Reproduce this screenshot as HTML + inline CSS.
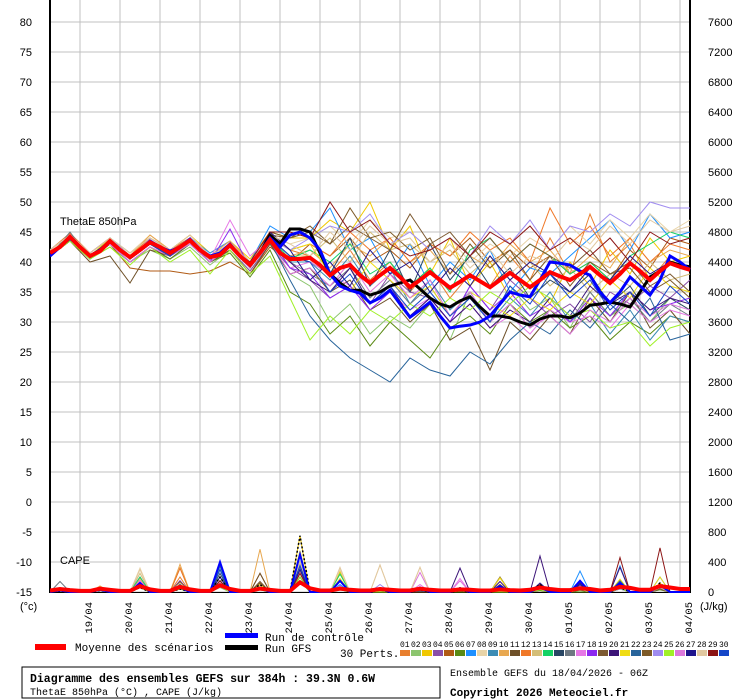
<!DOCTYPE html>
<html><head><meta charset="utf-8"><style>
body{margin:0;background:#fff;}
svg{display:block;font-family:"Liberation Sans",sans-serif;}
</style></head><body>
<svg id="chart" width="740" height="700" viewBox="0 0 740 700">
<rect x="0" y="0" width="740" height="700" fill="#fff"/>
<g id="grid"></g>
<g id="axes"></g>
<text x="60" y="225" font-size="11">ThetaE 850hPa</text>
<text x="60" y="564" font-size="11">CAPE</text>
<g id="series" clip-path="url(#plotclip)"></g>
<defs><clipPath id="plotclip"><rect x="50" y="0" width="641" height="593"/></clipPath></defs>
<g id="legend">
<rect x="35" y="644" width="31" height="6" fill="#f00"/>
<text x="75" y="651" font-size="11" font-family="Liberation Mono, monospace">Moyenne des scénarios</text>
<rect x="225" y="633" width="33" height="5" fill="#00f"/>
<text x="265" y="641" font-size="11" font-family="Liberation Mono, monospace">Run de contrôle</text>
<rect x="225" y="645" width="33" height="5" fill="#000"/>
<text x="265" y="652" font-size="11" font-family="Liberation Mono, monospace">Run GFS</text>
<text x="340" y="657" font-size="11" font-family="Liberation Mono, monospace">30 Perts.</text>
<g id="pertlegend"></g>
</g>
<rect x="22" y="667" width="418" height="31" fill="none" stroke="#000" stroke-width="1"/>
<text x="30" y="682" font-size="11.5" font-weight="bold" font-family="Liberation Mono, monospace">Diagramme des ensembles GEFS sur 384h : 39.3N 0.6W</text>
<text x="30" y="695" font-size="10" font-family="Liberation Mono, monospace">ThetaE 850hPa (°C) , CAPE (J/kg)</text>
<text x="450" y="676" font-size="10" font-family="Liberation Mono, monospace">Ensemble GEFS du 18/04/2026 - 06Z</text>
<text x="450" y="696" font-size="11" font-weight="bold" font-family="Liberation Mono, monospace">Copyright 2026 Meteociel.fr</text>
</svg>
<script>
const dates = ["19/04","20/04","21/04","22/04","23/04","24/04","25/04","26/04","27/04","28/04","29/04","30/04","01/05","02/05","03/05","04/05"];
const leftTicks = [80,75,70,65,60,55,50,45,40,35,30,25,20,15,10,5,0,-5,-10,-15];
const rightTicks = [7600,7200,6800,6400,6000,5600,5200,4800,4400,4000,3600,3200,2800,2400,2000,1600,1200,800,400,0];
const pertColors = ["#e87f2f","#8cc56e","#f0c800","#8a4fa8","#b05a14","#5a8a14","#1e90ff","#e8d4a8","#3c8cb4","#e8a850","#6e5028","#f07828","#d4be78","#14d264","#284664","#6e7882","#e678e6","#8c28f0","#7d5a32","#3c1478","#f0dc14","#28649b","#7d5a28","#a08cf0","#a0f028","#dc78dc","#1e148c","#e1c8a0","#8c1414","#1446c8"];

const meanTheta = [41.5,42.5,44.2,42.5,41,41.8,43.5,42,40.8,42,43.3,42.5,41.5,42.5,43.6,42,40.8,41.2,42.8,41,39.5,41.5,43.7,41.5,40.5,40.5,40.7,39.5,37.8,39,39.5,37.8,36.5,37.8,39,37.5,35.8,37,38.3,37,35.7,36.7,37.8,36.8,35.8,37,38.2,37,35.8,37,38.3,37.6,37,38,39.2,37.8,36.5,38,39.8,38.5,37,38.5,39.8,39.2,38.7];
const controlTheta = [41,42.5,44,42.5,41,42,43.5,42,40.8,42,43.5,42.5,41.8,42.5,43.8,42,41,41.5,43,41,39.5,41.5,44,42.5,44.5,45,44,42,38,36,35.3,34.8,33.2,34,35.3,33,30.8,32,33.3,31,29,29.3,29.5,30,31,33,35,34.5,34.2,37,40,39.8,39.5,38.5,37.8,35,33.2,35,37.5,36,34.5,37,41,40,38.7];
const gfsTheta = [41.5,42.5,44,42.5,41,42,43.5,42,40.8,42,43.3,42.5,41.5,42.5,43.6,42,40.8,41.5,42.8,41,39.5,41.5,44.5,43,45.5,45.5,45,41.5,38,36.5,35.3,35.3,34.5,35,36,36.5,37,35.5,34,33,32.5,33.5,34.2,32.5,31,31,30.7,30,29.5,30.5,31,31,30.7,31.5,32.8,33,33.3,33,32.5,35,37.5,38.5,40,39.5,39.2];

const p01 = [42,44.8,41.5,44,41,44.5,42,44,41,43,40,44.5,42,41,38,42,37,40,35,39,34,38,36,41,37,44,38,48,40,43,37,41,39];
const p02 = [41,43.5,40.5,42.5,40,42,40.5,42.5,39.5,42,38.5,43,38,36,30,33,28,31,29,33,27,35,30,36,32,34,29,35,31,33,30,34,32];
const p03 = [42,44.5,41.5,44,41.5,44,42,44.5,41.5,43.5,40.5,45,44,44,47,45,50,42,46,38,44,36,40,34,37,33,40,36,42,38,44,40,41];
const p04 = [41,43.8,40.5,43,40,42.5,40.5,43,40,42,38.5,43,39,37,34,36,33,38,35,34,30,36,32,37,34,31,33,30,35,33,36,34,37];
const p05 = [41.5,44,40.5,43,39,38.5,38.5,38,38.5,40,38,42.5,40,43,41,44,40,42,39,43,41,44,40,42,39,41,38,40,37,42,39,44,43];
const p06 = [41,43.5,40.5,43,40,42.5,40.5,43,40,41.5,37.5,42,35,33,28,31,26,30,27,24,29,31,28,33,30,32,29,31,27,30,28,31,30];
const p07 = [42,44.5,41.5,44,41.5,44,42,44,41.5,43.5,40,46,44,45,49,42,44,38,43,36,40,37,42,35,39,38,41,44,47,42,48,44,45];
const p08 = [42,44.5,41.5,44,41.5,44.5,42,44.5,41,43.5,40,44.5,43,44,46,43,47,44,45,42,44,40,43,41,44,42,46,43,47,44,48,45,47];
const p09 = [41.5,44,41,43.5,40.5,43,41,43.5,40.5,42.5,39,43.5,40,40,37,41,36,39,33,37,32,35,30,34,31,35,30,33,28,32,27,31,30];
const p10 = [42,44.5,41.5,44,41,44.5,42,44.5,41,43.5,40,44,41,42,39,43,41,44,40,42,38,41,39,43,40,42,38,41,39,44,40,42,41];
const p11 = [41,43.5,40,41,36.5,42,41,43,40,42,38,43,38,39,35,37,32,34,30,33,27,29,22,30,27,31,28,34,30,35,29,32,28];
const p12 = [42,44.5,41.5,44,41,44,42,44,41,43,40,45,42,43,41,45,42,44,40,43,41,45,42,44,40,49,43,46,41,44,40,43,42];
const p13 = [41.5,44.5,41,43.5,41,43.5,41.5,43.5,41,43,39.5,44,41,41,44,40,45,42,43,40,42,38,41,37,40,36,39,35,38,36,40,37,38];
const p14 = [41.5,44,41,43.5,40.5,43,41,43.5,40.5,42.5,39.5,44,40.5,42,40,43,38,40,36,39,35,42,44,40,43,41,38,40,37,41,43,45,44];
const p15 = [41,44,40.5,43,40.5,43,41,43.5,40.5,42.5,39,44,41,40,38,44,36,42,35,43,37,41,36,39,34,37,35,38,33,36,31,34,32];
const p16 = [41,45,40.5,44,40.5,43,41,43.5,40,42.5,39,43.5,40,38,36,39,34,37,33,36,31,34,30,33,29,32,30,35,31,34,30,33,31];
const p17 = [41.5,44,41,43.5,40.5,43,41.5,43.5,40.5,47,41,44,39,40,38,36,33,35,32,34,30,33,29,31,28,32,30,31,29,33,30,32,31];
const p18 = [41.5,44,41,43,40,42.5,41,43,40,45.5,39,44,39,38,34,36,32,35,31,34,30,36,32,35,31,33,30,34,31,35,32,33,34];
const p19 = [41.5,44,41,43.5,40.5,43,41,43,40.5,42.5,39.5,45,44,45,43,46,44,42,48,43,45,41,44,40,43,41,39,42,38,40,36,38,35];
const p20 = [41.5,44,41,43.5,40.5,43,41,43.5,40.5,42.5,39.5,44,40,37,35,39,33,36,31,34,30,33,29,32,30,34,31,36,33,35,32,34,33];
const p21 = [42,44.5,41,44,41,43.5,41.5,44,41,43,39.5,44,42,43,38,35,40,37,34,36,31,35,33,31,34,32,35,33,37,34,39,36,35];
const p22 = [41,44,40.5,43,40.5,43,41,43.5,40.5,42.5,39,43.5,37,31,27,24,22,20,24,22,21,25,23,27,30,28,32,29,33,30,34,27,28];
const p23 = [41.5,44,41,43.5,40.5,43,41,43.5,40.5,42.5,39.5,44.5,44,46,43,49,44,45,42,44,38,43,39,42,37,41,36,40,38,39,35,37,34];
const p24 = [42,44.5,41.5,44,41,43.5,41.5,44,41,43,40,44,42,44,46,45,48,43,45,42,44,41,46,43,47,42,46,45,48,46,50,49,49];
const p25 = [41,43.5,40.5,42.5,39.5,42.5,40,42,38,42,38,41,34,27,31,28,32,30,33,31,34,32,35,33,36,34,31,32,29,30,26,29,30];
const p26 = [41.5,44,41,43,40,42.5,41,43,40,42.5,39,43.5,38,39,36,40,35,38,34,37,31,35,30,33,29,31,28,32,30,34,31,33,32];
const p27 = [41.5,44,41,43.5,40.5,43,41,43.5,40.5,42.5,39.5,45,42,37,40,36,42,38,40,35,39,36,41,37,40,38,35,39,37,41,38,40,39];
const p28 = [42,44.5,41.5,44,41.5,44,42,44.5,41,43,40,44.5,43,41,45,42,46,43,44,40,43,39,42,38,41,40,44,42,46,43,47,45,46];
const p29 = [41.5,44,41,43.5,40.5,43,41,43.5,40.5,42.5,40,45,45,44,50,45,47,43,41,42,44,41,45,43,46,42,44,41,44,40,45,43,44];
const p30 = [41.5,44,41,43.5,40.5,43,41,43.5,40.5,42.5,39.5,44,41,40,35,38,33,36,32,35,31,34,30,36,33,38,34,37,32,35,31,36,33];
const pertTheta = [p01,p02,p03,p04,p05,p06,p07,p08,p09,p10,p11,p12,p13,p14,p15,p16,p17,p18,p19,p20,p21,p22,p23,p24,p25,p26,p27,p28,p29,p30];

const meanCape = [20,40,25,15,15,45,30,15,15,80,35,15,15,70,35,15,15,90,40,15,15,45,30,15,15,130,50,20,20,45,30,20,20,40,30,20,20,45,30,20,20,35,30,20,20,35,25,20,30,60,40,25,25,50,40,20,30,70,55,30,30,80,60,40,40];
const controlCapePeaks = [20,30,120,60,400,50,500,150,40,60,40,80,60,150,120,90];
const gfsCapePeaks = [10,20,60,40,200,100,750,60,30,30,20,60,100,150,60,120];
const c01=[40,60,150,200,120,80,250,60,20,0,20,30,50,30,80,40];
const c02=[20,40,100,80,60,30,200,40,0,40,20,0,30,20,60,30];
const c03=[30,50,120,100,150,60,750,270,40,20,60,190,60,40,170,120];
const c04=[20,30,80,60,200,50,300,50,30,0,60,20,80,40,60,50];
const c05=[20,20,60,320,100,250,200,80,20,0,20,0,20,30,50,40];
const c06=[10,20,60,40,80,30,150,30,0,20,0,40,20,0,40,30];
const c07=[30,40,200,120,300,60,350,100,40,30,50,60,80,280,350,200];
const c08=[40,60,320,150,100,80,400,300,360,330,40,60,50,40,80,60];
const c09=[20,30,150,100,350,60,300,80,30,20,40,40,60,100,120,80];
const c10=[30,80,180,370,150,570,300,60,40,0,30,40,60,50,80,60];
const c11=[20,30,100,80,380,250,350,60,0,20,40,200,60,40,100,80];
const c12=[30,40,150,320,120,60,300,50,40,0,20,30,40,60,80,100];
const c13=[20,60,250,150,100,80,350,60,30,20,40,100,50,40,80,60];
const c14=[20,30,200,100,150,40,300,240,50,20,30,40,60,80,60,50];
const c15=[20,30,80,60,250,60,200,50,30,20,20,40,60,100,80,60];
const c16=[140,40,100,60,100,40,250,40,20,0,20,40,60,30,80,60];
const c17=[20,30,150,80,100,60,250,80,60,100,180,40,100,80,60,40];
const c18=[30,20,100,150,120,40,300,60,40,30,60,40,80,60,80,40];
const c19=[20,30,100,120,100,140,200,60,20,0,20,100,40,30,60,40];
const c20=[20,30,80,60,150,40,300,50,60,30,320,140,480,120,330,60];
const c21=[30,20,100,80,150,100,550,180,20,40,20,190,60,40,170,200];
const c22=[20,30,120,100,350,60,400,60,30,20,40,40,60,100,150,100];
const c23=[20,30,80,140,120,120,250,50,20,0,20,40,60,40,60,40];
const c24=[30,20,100,80,150,40,300,60,100,40,60,30,40,60,40,60];
const c25=[10,20,60,40,80,30,200,60,0,40,20,0,30,40,50,60];
const c26=[20,20,100,60,120,40,250,60,60,260,150,40,60,50,80,60];
const c27=[20,30,100,80,200,60,300,50,30,20,60,80,120,100,100,80];
const c28=[30,60,300,120,100,80,400,330,360,330,20,60,40,40,80,60];
const c29=[20,30,80,60,150,40,250,50,30,20,40,60,100,60,460,590];
const c30=[20,30,120,80,300,60,350,60,40,20,40,60,80,150,120,100];
const pertCape = [c01,c02,c03,c04,c05,c06,c07,c08,c09,c10,c11,c12,c13,c14,c15,c16,c17,c18,c19,c20,c21,c22,c23,c24,c25,c26,c27,c28,c29,c30];

const NS = "http://www.w3.org/2000/svg";
const x0 = 50, pxPerDay = 40;
function xHours(h){ return x0 + h/24*pxPerDay; }
function yTheta(v){ return 22 + (80 - v) * 6; }
function yCape(c){ return 592 - c / 400 * 30; }
function mk(tag, attrs, parent){ const e=document.createElementNS(NS,tag); for(const k in attrs) e.setAttribute(k, attrs[k]); parent.appendChild(e); return e; }

const grid = document.getElementById('grid');
const axes = document.getElementById('axes');
const series = document.getElementById('series');

leftTicks.forEach((v)=>{
  const y = yTheta(v);
  const gl = mk('line',{x1:50,x2:690,y1:y,y2:y,stroke:'#c0c0c0','stroke-width':1},grid);
  
  
  const t = mk('text',{x:32,y:y+4,'font-size':11,'text-anchor':'end'},axes);
  t.textContent = v;
  
  
});
rightTicks.forEach((v)=>{
  const y = yCape(v);
  const t = mk('text',{x:708,y:y+4,'font-size':11},axes);
  t.textContent = v;
  
  
});
dates.forEach((d,i)=>{
  const x = xHours(18 + 24*i);
  const gl = mk('line',{x1:x,x2:x,y1:0,y2:592,stroke:'#c0c0c0','stroke-width':1},grid);
  
  
  const t = mk('text',{transform:`translate(${x+12},602) rotate(-90)`,'font-size':10.5,'font-family':'Liberation Mono, monospace','text-anchor':'end'},axes);
  t.textContent = d;
  
  
});
const la = mk('line',{x1:50,x2:50,y1:0,y2:593,stroke:'#000','stroke-width':2},axes);
 
const ra = mk('line',{x1:690,x2:690,y1:0,y2:593,stroke:'#000','stroke-width':2},axes);
 
const ba = mk('line',{x1:50,x2:690,y1:592.5,y2:592.5,stroke:'#000','stroke-width':1},axes);
 
const u1 = mk('text',{x:20,y:610,'font-size':11},axes); u1.textContent='(°c)';
 
const u2 = mk('text',{x:700,y:610,'font-size':11},axes); u2.textContent='(J/kg)';
 

function linePts(vals, stepH, yf){ return vals.map((v,i)=>`${xHours(i*stepH).toFixed(1)},${yf(v).toFixed(1)}`).join(' '); }
function spikePts(peaks){
  const pts=[[xHours(0),yCape(0)]];
  peaks.forEach((p,k)=>{ const h=6+24*k; pts.push([xHours(h-6),yCape(0)],[xHours(h),yCape(p)],[xHours(h+6),yCape(0)]); });
  pts.push([690,yCape(0)]);
  return pts.map(p=>p[0].toFixed(1)+','+p[1].toFixed(1)).join(' ');
}

pertTheta.forEach((arr,i)=>{
  const l = mk('polyline',{points:linePts(arr,12,yTheta),fill:'none',stroke:pertColors[i],'stroke-width':1},series);
  
  
});
pertCape.forEach((arr,i)=>{
  const l = mk('polyline',{points:spikePts(arr),fill:'none',stroke:pertColors[i],'stroke-width':1},series);
  
  
});
const g1 = mk('polyline',{points:linePts(gfsTheta,6,yTheta),fill:'none',stroke:'#000','stroke-width':3},series);
 
const g2 = mk('polyline',{points:spikePts(gfsCapePeaks),fill:'none',stroke:'#000','stroke-width':1.5,'stroke-dasharray':'2,2'},series);
 
const c1 = mk('polyline',{points:linePts(controlTheta,6,yTheta),fill:'none',stroke:'#00f','stroke-width':3},series);
 
const c2 = mk('polyline',{points:spikePts(controlCapePeaks),fill:'none',stroke:'#00f','stroke-width':2},series);
 
const m1 = mk('polyline',{points:linePts(meanTheta,6,yTheta),fill:'none',stroke:'#f00','stroke-width':4},series);
 
const m2 = mk('polyline',{points:linePts(meanCape,6,yCape),fill:'none',stroke:'#f00','stroke-width':4},series);
 

const pl = document.getElementById('pertlegend');
pertColors.forEach((c,i)=>{
  const x = 400 + i*11;
  const t = mk('text',{x:x,y:647,'font-size':8,'font-family':'Liberation Mono, monospace'},pl);
  t.textContent = String(i+1).padStart(2,'0');
  
  
  const r = mk('rect',{x:x,y:650,width:10,height:6,fill:c},pl);
  
  
});
</script>
</body></html>
